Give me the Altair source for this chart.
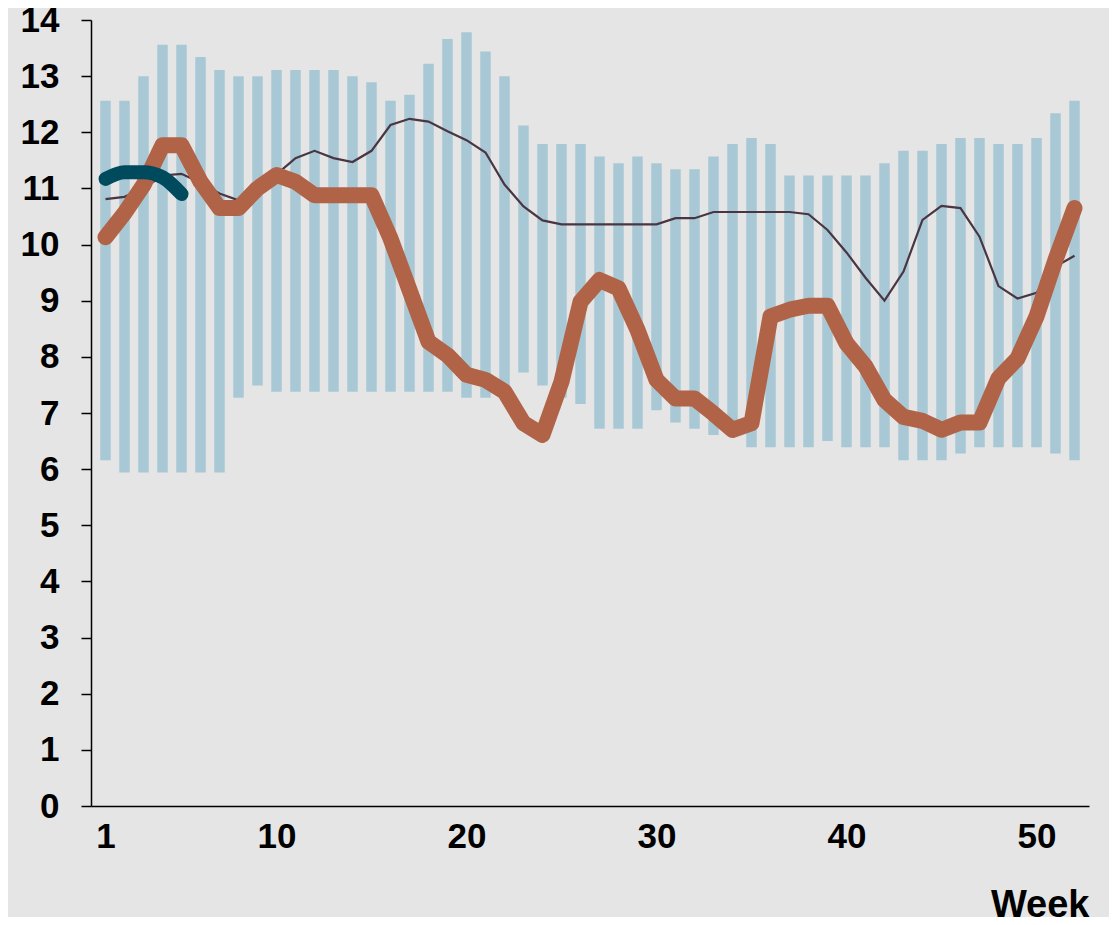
import altair as alt
import pandas as pd

weeks = list(range(1, 53))

range_max = [12.56, 12.56, 13.0, 13.56, 13.56, 13.34, 13.11, 13.0, 13.0, 13.11,
             13.11, 13.11, 13.11, 13.0, 12.89, 12.56, 12.67, 13.22, 13.66, 13.78,
             13.44, 13.0, 12.12, 11.79, 11.79, 11.79, 11.57, 11.45, 11.57, 11.45,
             11.34, 11.34, 11.57, 11.79, 11.9, 11.79, 11.23, 11.23, 11.23, 11.23,
             11.23, 11.45, 11.67, 11.67, 11.79, 11.9, 11.9, 11.79, 11.79, 11.9,
             12.34, 12.56]
range_min = [6.16, 5.94, 5.94, 5.94, 5.94, 5.94, 5.94, 7.27, 7.49, 7.38,
             7.38, 7.38, 7.38, 7.38, 7.38, 7.38, 7.38, 7.38, 7.38, 7.27,
             7.27, 7.27, 7.72, 7.49, 7.27, 7.16, 6.72, 6.72, 6.72, 7.05,
             6.83, 6.72, 6.61, 6.61, 6.39, 6.39, 6.39, 6.39, 6.5, 6.39,
             6.39, 6.39, 6.16, 6.16, 6.16, 6.28, 6.39, 6.39, 6.39, 6.39,
             6.28, 6.16]
average = [10.81, 10.85, 11.0, 11.23, 11.26, 11.1, 10.91, 10.79, 10.95, 11.25,
           11.54, 11.67, 11.54, 11.47, 11.67, 12.13, 12.24, 12.19, 12.02, 11.86,
           11.64, 11.07, 10.68, 10.43, 10.36, 10.36, 10.36, 10.36, 10.36, 10.36,
           10.47, 10.47, 10.58, 10.58, 10.58, 10.58, 10.58, 10.54, 10.26, 9.86,
           9.41, 9.0, 9.52, 10.44, 10.69, 10.65, 10.14, 9.26, 9.04, 9.14,
           9.61, 9.80]
last_year = [10.13, 10.56, 11.06, 11.77, 11.77, 11.12, 10.65, 10.65, 11.0, 11.24,
             11.12, 10.88, 10.88, 10.88, 10.88, 10.11, 9.19, 8.27, 8.03, 7.68,
             7.59, 7.38, 6.82, 6.61, 7.56, 8.98, 9.37, 9.22, 8.48, 7.59,
             7.26, 7.26, 6.99, 6.70, 6.82, 8.72, 8.84, 8.91, 8.91, 8.24,
             7.83, 7.23, 6.93, 6.86, 6.70, 6.83, 6.83, 7.62, 7.97, 8.72,
             9.73, 10.65]
current_weeks = [1, 2, 3, 4, 5]
current_year = [11.17, 11.29, 11.29, 11.2, 10.9]

x_ticks = [1, 10, 20, 30, 40, 50]
y_ticks = list(range(0, 15))

df = pd.DataFrame({"week": weeks, "lo": range_min, "hi": range_max,
                   "avg": average, "last": last_year})
dfc = pd.DataFrame({"week": current_weeks, "cur": current_year})

FONT = "Liberation Sans"

xscale = alt.Scale(domain=[0.5, 52.5], nice=False, zero=False)
yscale = alt.Scale(domain=[0, 14], nice=False)

xaxis = alt.Axis(values=x_ticks, ticks=False, grid=False, labelFont=FONT,
                 labelFontWeight="bold", labelFontSize=35, labelColor="black",
                 labelPadding=13, domainColor="black", domainWidth=1.5,
                 title="Week", titleFont=FONT, titleFontWeight="bold",
                 titleFontSize=38, titleColor="black", titleX=998, titleY=110,
                 titleAlign="right", titleBaseline="alphabetic", titleAnchor="end")
yaxis = alt.Axis(values=y_ticks, format="d", grid=False, labelFont=FONT,
                 labelFontWeight="bold", labelFontSize=35, labelColor="black",
                 labelPadding=22, tickSize=10, tickColor="black", tickWidth=1.5,
                 domainColor="black", domainWidth=1.5, title=None)

bars = alt.Chart(df).mark_bar(color="#a9c8d5", size=10.5).encode(
    x=alt.X("week:Q", scale=xscale, axis=xaxis),
    y=alt.Y("lo:Q", scale=yscale, axis=yaxis),
    y2="hi:Q",
)

avg_line = alt.Chart(df).mark_line(color="#4a3542", strokeWidth=2.2).encode(
    x=alt.X("week:Q", scale=xscale),
    y=alt.Y("avg:Q", scale=yscale),
)

last_line = alt.Chart(df).mark_line(color="#b06347", strokeWidth=16,
                                    strokeCap="round", strokeJoin="round").encode(
    x=alt.X("week:Q", scale=xscale),
    y=alt.Y("last:Q", scale=yscale),
)

cur_line = alt.Chart(dfc).mark_line(color="#004a5e", strokeWidth=14,
                                    strokeCap="round", strokeJoin="round",
                                    interpolate="monotone").encode(
    x=alt.X("week:Q", scale=xscale),
    y=alt.Y("cur:Q", scale=yscale),
)

chart = alt.layer(bars, avg_line, last_line, cur_line).properties(
    width=998, height=786,
    autosize=alt.AutoSizeParams(type="none"),
    padding={"left": 83, "top": 12, "right": 20, "bottom": 111},
    background="#e5e5e5",
).configure_view(stroke=None)

chart.save("out.html", embed_options={"renderer": "svg", "actions": False})
